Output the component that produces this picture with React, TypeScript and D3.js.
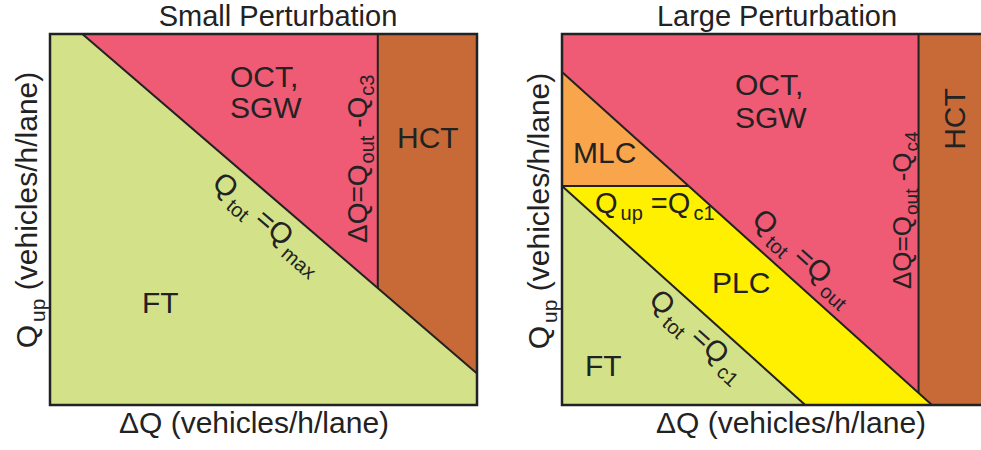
import React from "react";
import * as d3 from "d3";

// Traffic-state diagrams: upstream flow Q_up versus ΔQ (vehicles/h/lane)
const panelTitles = ["Small Perturbation", "Large Perturbation"];
const axisLabelX = "(vehicles/h/lane)";
const qUpDomain = [0, 2000];
const smallDqDomain = [0, 1980];
const largeDqDomain = [0, 2100];

// Small perturbation thresholds: total-flow capacity and ΔQ limit (Q_out - Q_c3)
const smallThresholds = { qMax: 2150, dqC3: 1520 };
// Large perturbation thresholds: Q_out, Q_c1 and ΔQ limit (Q_out - Q_c4)
const largeThresholds = { qOut: 1795, qC1: 1180, dqC4: 1730 };

const COLORS = {
  ft: "#d3e289",
  oct: "#ef5a74",
  hct: "#c86a38",
  mlc: "#f8a54b",
  plc: "#fff000",
  ink: "#222222",
};

const FONT = "'Liberation Sans', Arial, Helvetica, sans-serif";
const W = 981;
const H = 450;
const TOP = 34;
const BOTTOM = 405;
const LABEL = 30;

type Pt = [number, number];

// text with subscripts: parts are [text, isSub]
function RichText({
  parts,
  x,
  y,
  transform,
  size = LABEL,
  subSize = 21,
  subShift = 8,
  subGap = 3,
  anchor = "start",
}: {
  parts: [string, boolean][];
  x: number;
  y: number;
  transform?: string;
  size?: number;
  subSize?: number;
  subShift?: number;
  subGap?: number;
  anchor?: string;
}) {
  let prevSub = false;
  return (
    <text x={x} y={y} transform={transform} fontFamily={FONT} fontSize={size} fill={COLORS.ink} textAnchor={anchor} style={{ whiteSpace: "pre" }}>
      {parts.map(([t, sub], i) => {
        let dy = 0;
        let dx = 0;
        if (sub && !prevSub) {
          dy = subShift;
          dx = subGap;
        }
        if (!sub && prevSub) dy = -subShift;
        prevSub = sub;
        return (
          <tspan key={i} dy={dy} dx={dx} fontSize={sub ? subSize : size}>
            {t}
          </tspan>
        );
      })}
    </text>
  );
}

// place a label along a line segment: `along` px from p0, `offset` px to the lower-left side
function alongLine(p0: Pt, p1: Pt, along: number, offset: number) {
  const dx = p1[0] - p0[0];
  const dy = p1[1] - p0[1];
  const len = Math.hypot(dx, dy);
  const ux = dx / len;
  const uy = dy / len;
  const nx = -uy;
  const ny = ux;
  const x = p0[0] + ux * along + nx * offset;
  const y = p0[1] + uy * along + ny * offset;
  const angle = (Math.atan2(dy, dx) * 180) / Math.PI;
  return { x, y, angle };
}

function Label({ x, y, children, anchor = "start", size = LABEL, transform }: any) {
  return (
    <text x={x} y={y} transform={transform} fontFamily={FONT} fontSize={size} fill={COLORS.ink} textAnchor={anchor}>
      {children}
    </text>
  );
}

function SmallPanel() {
  const x = d3.scaleLinear().domain(smallDqDomain).range([50, 477]);
  const y = d3.scaleLinear().domain(qUpDomain).range([BOTTOM, TOP]);
  const [x0, xm] = smallDqDomain;
  const [y0, ym] = qUpDomain;
  const { qMax, dqC3 } = smallThresholds;
  const line = d3.line<Pt>().x((d) => x(d[0])).y((d) => y(d[1]));
  const poly = (pts: Pt[]) => line(pts) + "Z";

  const ft: Pt[] = [[x0, y0], [x0, ym], [qMax - ym, ym], [xm, qMax - xm], [xm, y0]];
  const oct: Pt[] = [[qMax - ym, ym], [dqC3, ym], [dqC3, qMax - dqC3]];
  const hct: Pt[] = [[dqC3, ym], [xm, ym], [xm, qMax - xm], [dqC3, qMax - dqC3]];
  const diag: Pt[] = [[qMax - ym, ym], [xm, qMax - xm]];
  const vert: Pt[] = [[dqC3, ym], [dqC3, qMax - dqC3]];

  const p0: Pt = [x(diag[0][0]), y(diag[0][1])];
  const p1: Pt = [x(diag[1][0]), y(diag[1][1])];
  const lab = alongLine(p0, p1, 196, 31);

  return (
    <g>
      <path d={poly(ft)} fill={COLORS.ft} />
      <path d={poly(oct)} fill={COLORS.oct} />
      <path d={poly(hct)} fill={COLORS.hct} />
      <path d={line(diag)!} stroke={COLORS.ink} strokeWidth={2} fill="none" />
      <path d={line(vert)!} stroke={COLORS.ink} strokeWidth={2} fill="none" />
      <rect x={x(x0)} y={y(ym)} width={x(xm) - x(x0)} height={y(y0) - y(ym)} fill="none" stroke={COLORS.ink} strokeWidth={2.5} />

      <Label x={278} y={26} anchor="middle" size={29}>{panelTitles[0]}</Label>
      <Label x={254} y={433} anchor="middle">ΔQ {axisLabelX}</Label>
      <RichText parts={[["Q", false], ["up", true], [" " + axisLabelX, false]]} x={0} y={0} transform={`translate(37,210) rotate(-90)`} anchor="middle" />

      <Label x={230} y={87}>OCT,</Label>
      <Label x={230} y={118}>SGW</Label>
      <Label x={397} y={148}>HCT</Label>
      <Label x={142} y={313}>FT</Label>

      <RichText
        parts={[["Q", false], ["tot", true], [" =Q", false], ["max", true]]}
        x={0}
        y={0}
        size={29}
        subSize={20}
        transform={`translate(${lab.x},${lab.y}) rotate(${lab.angle})`}
      />
      <RichText
        parts={[["ΔQ=Q", false], ["out", true], [" -Q", false], ["c3", true]]}
        x={0}
        y={0}
        size={28}
        subSize={20}
        subShift={7}
        subGap={1}
        transform={`translate(367,243) rotate(-90)`}
      />
    </g>
  );
}

function LargePanel() {
  const x = d3.scaleLinear().domain(largeDqDomain).range([562, 562 + 0.2061 * largeDqDomain[1]]);
  const y = d3.scaleLinear().domain(qUpDomain).range([BOTTOM, TOP]);
  const [x0, xm] = largeDqDomain;
  const [y0, ym] = qUpDomain;
  const { qOut, qC1, dqC4 } = largeThresholds;
  const line = d3.line<Pt>().x((d) => x(d[0])).y((d) => y(d[1]));
  const poly = (pts: Pt[]) => line(pts) + "Z";

  const oct: Pt[] = [[x0, ym], [dqC4, ym], [dqC4, qOut - dqC4], [x0, qOut]];
  const mlc: Pt[] = [[x0, qOut], [qOut - qC1, qC1], [x0, qC1]];
  const plc: Pt[] = [[x0, qC1], [qOut - qC1, qC1], [qOut, y0], [qC1, y0]];
  const ft: Pt[] = [[x0, qC1], [qC1, y0], [x0, y0]];
  const hct: Pt[] = [[dqC4, ym], [xm, ym], [xm, y0], [qOut, y0], [dqC4, qOut - dqC4]];

  const outLine: Pt[] = [[x0, qOut], [qOut, y0]];
  const c1Line: Pt[] = [[x0, qC1], [qC1, y0]];
  const upLine: Pt[] = [[x0, qC1], [qOut - qC1, qC1]];
  const vert: Pt[] = [[dqC4, ym], [dqC4, qOut - dqC4]];

  const px = (p: Pt): Pt => [x(p[0]), y(p[1])];
  const labOut = alongLine(px(outLine[0]), px(outLine[1]), 240, -15);
  const labC1 = alongLine(px(c1Line[0]), px(c1Line[1]), 141, 29);

  return (
    <g>
      <path d={poly(oct)} fill={COLORS.oct} />
      <path d={poly(mlc)} fill={COLORS.mlc} />
      <path d={poly(plc)} fill={COLORS.plc} />
      <path d={poly(ft)} fill={COLORS.ft} />
      <path d={poly(hct)} fill={COLORS.hct} />
      {[outLine, c1Line, upLine, vert].map((l, i) => (
        <path key={i} d={line(l)!} stroke={COLORS.ink} strokeWidth={2} fill="none" />
      ))}
      <rect x={x(x0)} y={y(ym)} width={x(xm) - x(x0)} height={y(y0) - y(ym)} fill="none" stroke={COLORS.ink} strokeWidth={2.5} />

      <Label x={777} y={26} anchor="middle" size={29}>{panelTitles[1]}</Label>
      <Label x={791} y={433} anchor="middle">ΔQ {axisLabelX}</Label>
      <RichText parts={[["Q", false], ["up", true], [" " + axisLabelX, false]]} x={0} y={0} transform={`translate(549,211) rotate(-90)`} anchor="middle" />

      <Label x={735} y={95}>OCT,</Label>
      <Label x={735} y={128}>SGW</Label>
      <Label x={573} y={163}>MLC</Label>
      <Label x={712} y={293}>PLC</Label>
      <Label x={585} y={376}>FT</Label>
      <Label x={0} y={0} transform="translate(965,119) rotate(-90)" anchor="middle">HCT</Label>

      <RichText parts={[["Q", false], ["up", true], [" =Q", false], ["c1", true]]} x={595} y={213} size={29} subSize={20} subShift={7} />
      <RichText
        parts={[["Q", false], ["tot", true], [" =Q", false], ["out", true]]}
        x={0}
        y={0}
        size={29}
        subSize={20}
        transform={`translate(${labOut.x},${labOut.y}) rotate(${labOut.angle})`}
      />
      <RichText
        parts={[["Q", false], ["tot", true], [" =Q", false], ["c1", true]]}
        x={0}
        y={0}
        size={29}
        subSize={20}
        transform={`translate(${labC1.x},${labC1.y}) rotate(${labC1.angle})`}
      />
      <RichText
        parts={[["ΔQ=Q", false], ["out", true], [" -Q", false], ["c4", true]]}
        x={0}
        y={0}
        size={26}
        subSize={19}
        subShift={7}
        subGap={1}
        transform={`translate(911,289) rotate(-90)`}
      />
    </g>
  );
}

export default function App() {
  return (
    <svg width={W} height={H} viewBox={`0 0 ${W} ${H}`} style={{ display: "block", position: "absolute", left: 0, top: 0, background: "#fff" }}>
      <rect width={W} height={H} fill="#fff" />
      <SmallPanel />
      <LargePanel />
    </svg>
  );
}
